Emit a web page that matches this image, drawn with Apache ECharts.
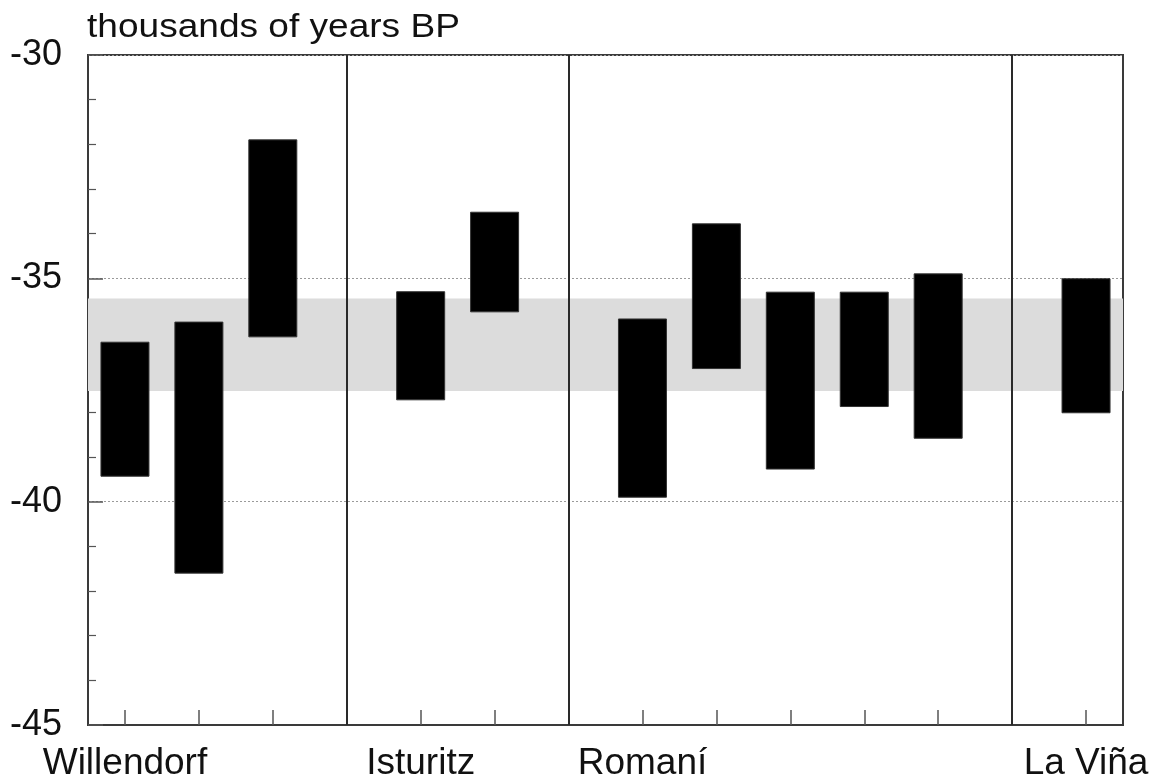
<!DOCTYPE html>
<html>
<head>
<meta charset="utf-8">
<script src="https://cdn.jsdelivr.net/npm/echarts@6/dist/echarts.min.js"></script>
<style>html,body{margin:0;padding:0;background:#fff;}#chart{width:1165px;height:784px;}</style>
</head>
<body>
<div id="chart"></div>
<script>
// Category slots along the x axis (separators sit at the "|" slots)
const categories = ["Willendorf","W2","W3","|1","Isturitz","I2","|2","Romaní","R2","R3","R4","R5","|3","La Viña"];
const siteLabels = ["Willendorf","Isturitz","Romaní","La Viña"];
const separatorSlots = [3, 6, 12];
// Date ranges (thousands of years BP)
const barSlots = [0, 1, 2, 4, 5, 7, 8, 9, 10, 11, 13];
const lowValues  = [-39.43, -41.60, -36.31, -37.72, -35.75, -39.90, -37.02, -39.27, -37.87, -38.58, -38.01];
const highValues = [-36.43, -35.98, -31.90, -35.30, -33.52, -35.91, -33.78, -35.31, -35.31, -34.90, -35.01];
// Shaded band
const bandRange = [-37.52, -35.45];
const yTicks = [-45, -40, -35, -30];
const axisTitle = 'thousands of years BP';

const font = "'Liberation Sans', Arial, Helvetica, sans-serif";
const barData = barSlots.map((s, i) => [s, lowValues[i], highValues[i]]);

const chart = echarts.init(document.getElementById('chart'));
chart.setOption({
  animation: false,
  backgroundColor: '#fff',
  graphic: [{
    type: 'text', x: 87, y: 11, scaleX: 1.09, silent: true,
    style: { x: 0, y: 0, text: axisTitle, fill: '#111',
      font: "normal 34px 'Liberation Sans', Arial, sans-serif",
      verticalAlign: 'top' }
  }],
  grid: {
    left: 88, right: 42, top: 55, bottom: 59,
    show: true, borderColor: '#3a3a3a', borderWidth: 2, backgroundColor: 'transparent'
  },
  xAxis: {
    type: 'category',
    data: categories,
    boundaryGap: true,
    axisLine: { lineStyle: { color: '#3a3a3a', width: 2 } },
    axisTick: { show: true, inside: true, length: 15, alignWithLabel: true, interval: 0,
      lineStyle: { color: '#555', width: 1.5 } },
    axisLabel: {
      interval: 0, margin: 20,
      fontFamily: font, fontSize: 37, color: '#111',
      formatter: v => siteLabels.indexOf(v) >= 0 ? v : ''
    },
    splitLine: { show: false }
  },
  yAxis: {
    type: 'value',
    min: yTicks[0], max: yTicks[yTicks.length - 1], interval: 5,
    axisLine: { show: true, lineStyle: { color: '#3a3a3a', width: 2 } },
    axisTick: { show: true, inside: true, length: 15, lineStyle: { color: '#555', width: 1.5 } },
    minorTick: { show: true, splitNumber: 5, length: 8, lineStyle: { color: '#555', width: 1.2 } },
    axisLabel: { margin: 26, fontFamily: font, fontSize: 36, color: '#111' },
    splitLine: { show: true, lineStyle: { color: '#9a9a9a', type: [2, 2], width: 1 } }
  },
  series: [
    {
      type: 'line', data: [], z: 1, silent: true,
      markArea: {
        silent: true,
        itemStyle: { color: '#dcdcdc' },
        data: [[{ yAxis: bandRange[1] }, { yAxis: bandRange[0] }]]
      }
    },
    {
      type: 'custom', z: 3, silent: true,
      data: barData,
      renderItem: (params, api) => {
        const x = api.value(0);
        const lo = api.coord([x, api.value(1)]);
        const hi = api.coord([x, api.value(2)]);
        const w = 48;
        return {
          type: 'rect',
          shape: { x: lo[0] - w / 2, y: hi[1], width: w, height: lo[1] - hi[1] },
          style: { fill: '#000', stroke: '#333', lineWidth: 1 }
        };
      },
      markLine: {
        silent: true, symbol: 'none', label: { show: false },
        lineStyle: { color: '#2a2a2a', type: 'solid', width: 2 },
        data: separatorSlots.map(s => ({ xAxis: s }))
      }
    }
  ]
});
</script>
</body>
</html>
